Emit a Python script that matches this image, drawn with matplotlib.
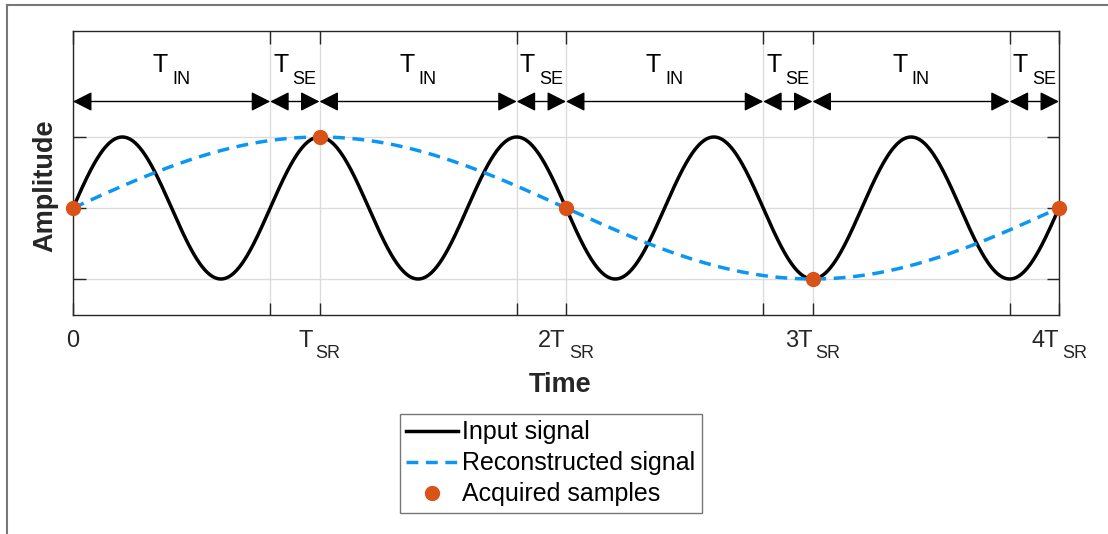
import numpy as np
import matplotlib.pyplot as plt
import matplotlib.transforms as mtransforms
from matplotlib.lines import Line2D

plt.rcParams['font.family'] = 'Liberation Sans'

# signal parameters (in units of T_SR)
f_input = 1.25      # cycles per T_SR
f_recon = 0.25
amp = 1.0

sample_t = [0, 1, 2, 3, 4]
sample_v = [0, 1, 0, -1, 0]

# interval boundaries and names
edges = [0, 0.8, 1.0, 1.8, 2.0, 2.8, 3.0, 3.8, 4.0]
seg_names = ['IN', 'SE', 'IN', 'SE', 'IN', 'SE', 'IN', 'SE']

tick_pos = [0, 1, 2, 3, 4]
tick_main = ['0', 'T', '2T', '3T', '4T']
tick_sub = ['', 'SR', 'SR', 'SR', 'SR']

t = np.linspace(0, 4, 2000)
x_in = amp * np.sin(2 * np.pi * f_input * t)
x_rec = amp * np.sin(2 * np.pi * f_recon * t)

fig = plt.figure(figsize=(11.08, 5.34), dpi=100)
ax = fig.add_axes([73/1108, 1 - 314.5/534, 986/1108, 284/534])

ax.plot(t, x_in, color='black', lw=2.5, label='Input signal')
ax.plot(t, x_rec, color='#0a96f5', lw=2.5, ls=(0, (3.4, 2.2)), label='Reconstructed signal')
ax.plot(sample_t, sample_v, 'o', color='#d95319', ms=10, label='Acquired samples',
        zorder=5, clip_on=False)

ax.set_xlim(0, 4)
ax.set_ylim(-1.5, 2.5)
ax.set_xticks(edges)
ax.set_xticklabels([])
ax.set_yticks([-1, 0, 1])
ax.set_yticklabels([])
ax.tick_params(direction='in', length=9, width=1, top=True, right=True, color='#262626')
ax.grid(True, color='#dcdcdc', lw=1)
ax.set_axisbelow(True)
for s in ax.spines.values():
    s.set_color('#262626')
    s.set_linewidth(1)

ax.set_xlabel('Time', fontsize=19.5, fontweight='bold', color='#262626')
ax.xaxis.set_label_coords(0.494, -0.203)
ax.set_ylabel('Amplitude', fontsize=19.5, fontweight='bold', color='#262626')
ax.yaxis.set_label_coords(-0.015, 0.452)

# text with a MATLAB-style subscript: main part + lowered smaller part
labels = []


def sub_text(x, y, main, sub, size, subsize, drop, gap, trans, color):
    t1 = ax.text(x, y, main, fontsize=size, ha='left', va='baseline', color=color,
                 transform=trans)
    t2 = None
    if sub:
        t2 = ax.text(x, y, sub, fontsize=subsize, ha='left', va='baseline', color=color,
                     transform=trans)
    labels.append((t1, t2, trans, drop, gap))


tick_trans = ax.get_xaxis_transform()
for x, m, s in zip(tick_pos, tick_main, tick_sub):
    sub_text(x, -0.1144, m, s, 17, 13, 11, 3, tick_trans, '#262626')

for a, b, name in zip(edges[:-1], edges[1:], seg_names):
    ax.annotate('', xy=(b, 1.5), xytext=(a, 1.5),
                arrowprops=dict(arrowstyle='<|-|>,head_length=0.65,head_width=0.33',
                                color='black', lw=1, shrinkA=0, shrinkB=0,
                                mutation_scale=18))
    sub_text((a + b) / 2, 1.915, 'T', name, 18, 13, 12, 4, ax.transData, 'black')

# centre each label group on its anchor
fig.canvas.draw()
r = fig.canvas.get_renderer()
for t1, t2, trans, drop, gap in labels:
    w1 = t1.get_window_extent(r).width
    w2 = t2.get_window_extent(r).width if t2 is not None else 0
    g = gap if t2 is not None else 0
    start = -(w1 + g + w2) / 2
    t1.set_transform(mtransforms.offset_copy(trans, fig, x=start, y=0, units='dots'))
    if t2 is not None:
        t2.set_transform(mtransforms.offset_copy(trans, fig, x=start + w1 + g, y=-drop,
                                                 units='dots'))

leg = ax.legend(loc='upper center', bbox_to_anchor=(0.497, 1 - 414/534),
                bbox_transform=fig.transFigure, fontsize=18, frameon=True,
                fancybox=False, edgecolor='#555555', handlelength=2.1,
                handletextpad=0.15, borderpad=0.25, labelspacing=0.28, borderaxespad=0)
leg.get_frame().set_linewidth(1)

# figure border (top and left)
fig.add_artist(Line2D([7/1108, 1], [1 - 5/534, 1 - 5/534], color='#777777', lw=1.5))
fig.add_artist(Line2D([7/1108, 7/1108], [0, 1 - 5/534], color='#777777', lw=1.5))

fig.savefig('out.png', dpi=100)
